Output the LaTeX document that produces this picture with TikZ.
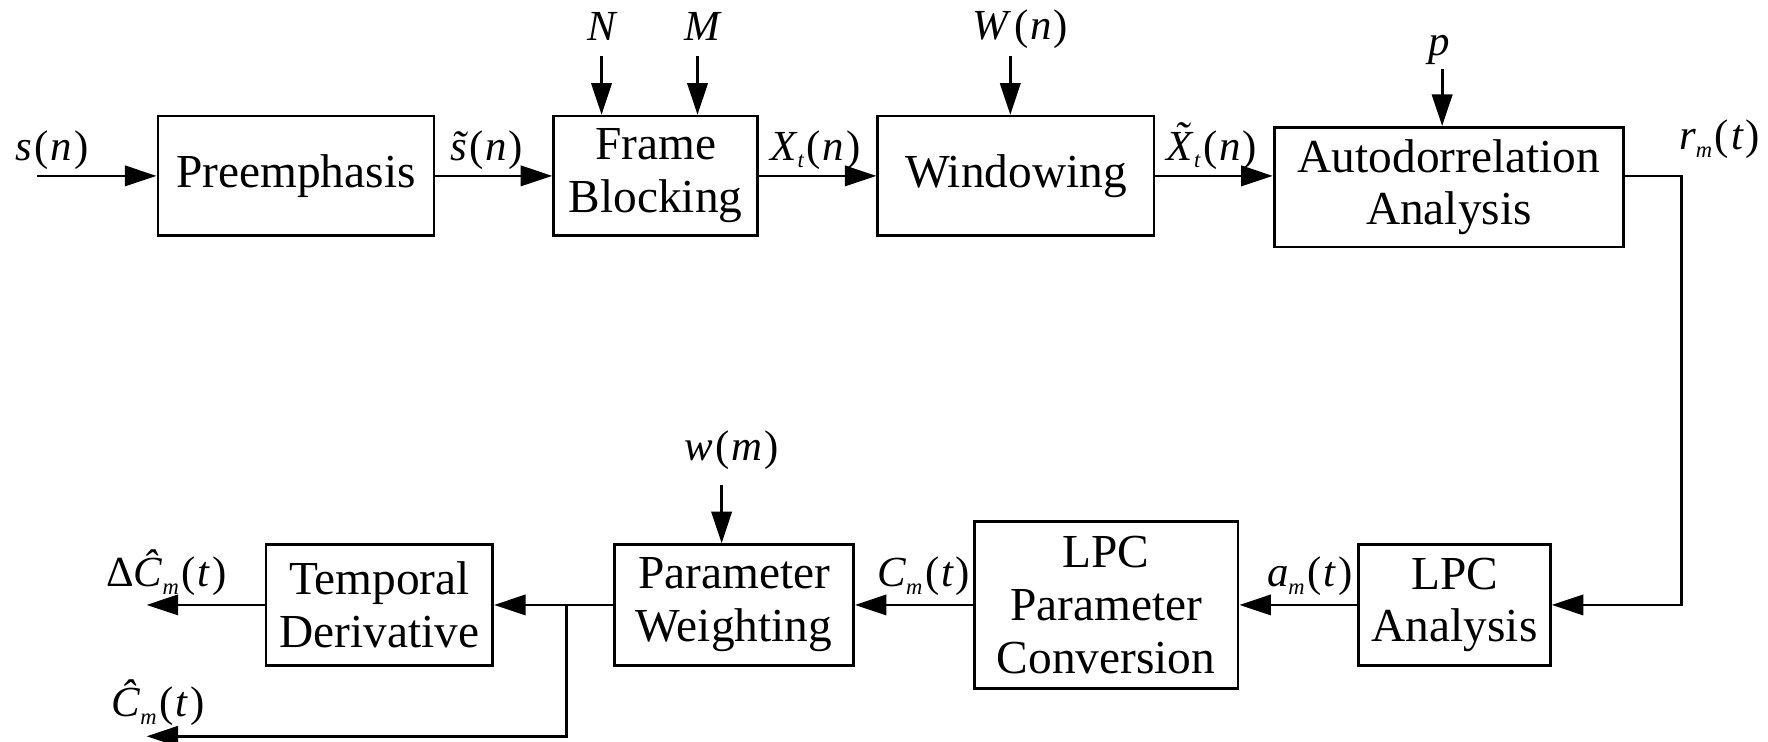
\documentclass[tikz,border=0pt]{standalone}
\usepackage{fontspec}
\setmainfont{Liberation Serif}
\usetikzlibrary{arrows.meta}
\newcommand{\sbs}[1]{\raisebox{-0.4ex}{\fontsize{10}{10}\selectfont\itshape #1}}
\newcommand{\iv}[1]{\textit{#1}}
\newcommand{\pa}[1]{\kern1.2pt(\kern0.8pt#1\kern0.8pt)}
\newcommand{\tld}[1]{{\accent"02DC #1}}
\begin{document}
\begin{tikzpicture}[x=0.5pt,y=-0.5pt,
 blk/.style={draw,line width=1.2pt,align=center,inner sep=0pt,font=\fontsize{21}{23.4}\selectfont},
 lbl/.style={anchor=base,inner sep=0pt,font=\fontsize{19}{19}\selectfont},
 arr/.style={line width=1.2pt,-{Triangle[length=14pt,width=9pt]}}]
\useasboundingbox (0,0) rectangle (1568,658);
% blocks
\node[blk,minimum width=122.5pt,minimum height=53pt] (pre) at (262.5,156) {Preemphasis};
\node[blk,minimum width=90.5pt,minimum height=53pt] (fb) at (581.5,156) {Frame\\Blocking};
\node[blk,minimum width=122.5pt,minimum height=53pt] (win) at (901,156) {Windowing};
\node[blk,minimum width=155pt,minimum height=53pt] (ac) at (1285,166) {Autodorrelation\\Analysis};
\node[blk,minimum width=85pt,minimum height=53.5pt] (lpca) at (1290,536.5) {LPC\\Analysis};
\node[blk,minimum width=117pt,minimum height=74pt] (lpcc) at (981,536.5) {LPC\\Parameter\\Conversion};
\node[blk,minimum width=106pt,minimum height=53.5pt] (pw) at (651,536.5) {Parameter\\Weighting};
\node[blk,minimum width=100.5pt,minimum height=53.5pt] (td) at (336.5,536.5) {Temporal\\Derivative};
% coordinates
\coordinate (sin) at (33,156);
\coordinate (nN) at (533.5,50);
\coordinate (nM) at (618.6,50);
\coordinate (nW) at (896,50);
\coordinate (np) at (1279,61);
\coordinate (rc) at (1491,156);
\coordinate (nw) at (640,430);
\coordinate (jn) at (502.5,536.5);
\coordinate (o1) at (130,536.5);
\coordinate (o2) at (130,653);
% connectors
\draw[arr] (sin) -- (pre);
\draw[arr] (pre) -- (fb);
\draw[arr] (fb) -- (win);
\draw[arr] (win.east) -- (win.east -| ac.west);
\draw[arr] (nN) -- (nN |- fb.north);
\draw[arr] (nM) -- (nM |- fb.north);
\draw[arr] (nW) -- (nW |- win.north);
\draw[arr] (np) -- (np |- ac.north);
\draw[arr] (ac.east |- win.east) -- (rc) -- (rc |- lpca.east) -- (lpca.east);
\draw[arr] (lpca) -- (lpcc);
\draw[arr] (lpcc) -- (pw);
\draw[arr] (pw) -- (td);
\draw[arr] (nw) -- (nw |- pw.north);
\draw[arr] (td) -- (o1);
\draw[arr] (jn) -- (jn |- o2) -- (o2);
% labels
\node[lbl] (l1) at (46,142) {\iv{s}\pa{\iv{n}}};
\node[lbl] (l2) at (431.5,142) {\iv{\tld{s}}\pa{\iv{n}}};
\node[lbl] (l3) at (723,142) {\iv{X}\sbs{t}\pa{\iv{n}}};
\node[lbl] (l4) at (534.5,35.5) {\iv{N}};
\node[lbl] (l5) at (623.5,35.5) {\iv{M}};
\node[lbl] (l6) at (905,35) {\iv{W}\pa{\iv{n}}};
\node[lbl] (l7) at (1074.5,142) {\iv{\tld{X}}\sbs{t}\pa{\iv{n}}};
\node[lbl] (l8) at (1276,48.8) {\iv{p}};
\node[lbl] (l9) at (1525,133) {\iv{r}\sbs{m}\pa{\iv{t}}};
\node[lbl] (l10) at (1161.5,520) {\iv{a}\sbs{m}\pa{\iv{t}}};
\node[lbl] (l11) at (819,520) {\iv{C}\sbs{m}\pa{\iv{t}}};
\node[lbl] (l12) at (649,408) {\iv{w}\pa{\iv{m}}};
\node[lbl] (l13) at (147.5,520) {Δ\iv{Ĉ}\sbs{m}\pa{\iv{t}}};
\node[lbl] (l14) at (140,635.6) {\iv{Ĉ}\sbs{m}\pa{\iv{t}}};
\end{tikzpicture}
\end{document}
